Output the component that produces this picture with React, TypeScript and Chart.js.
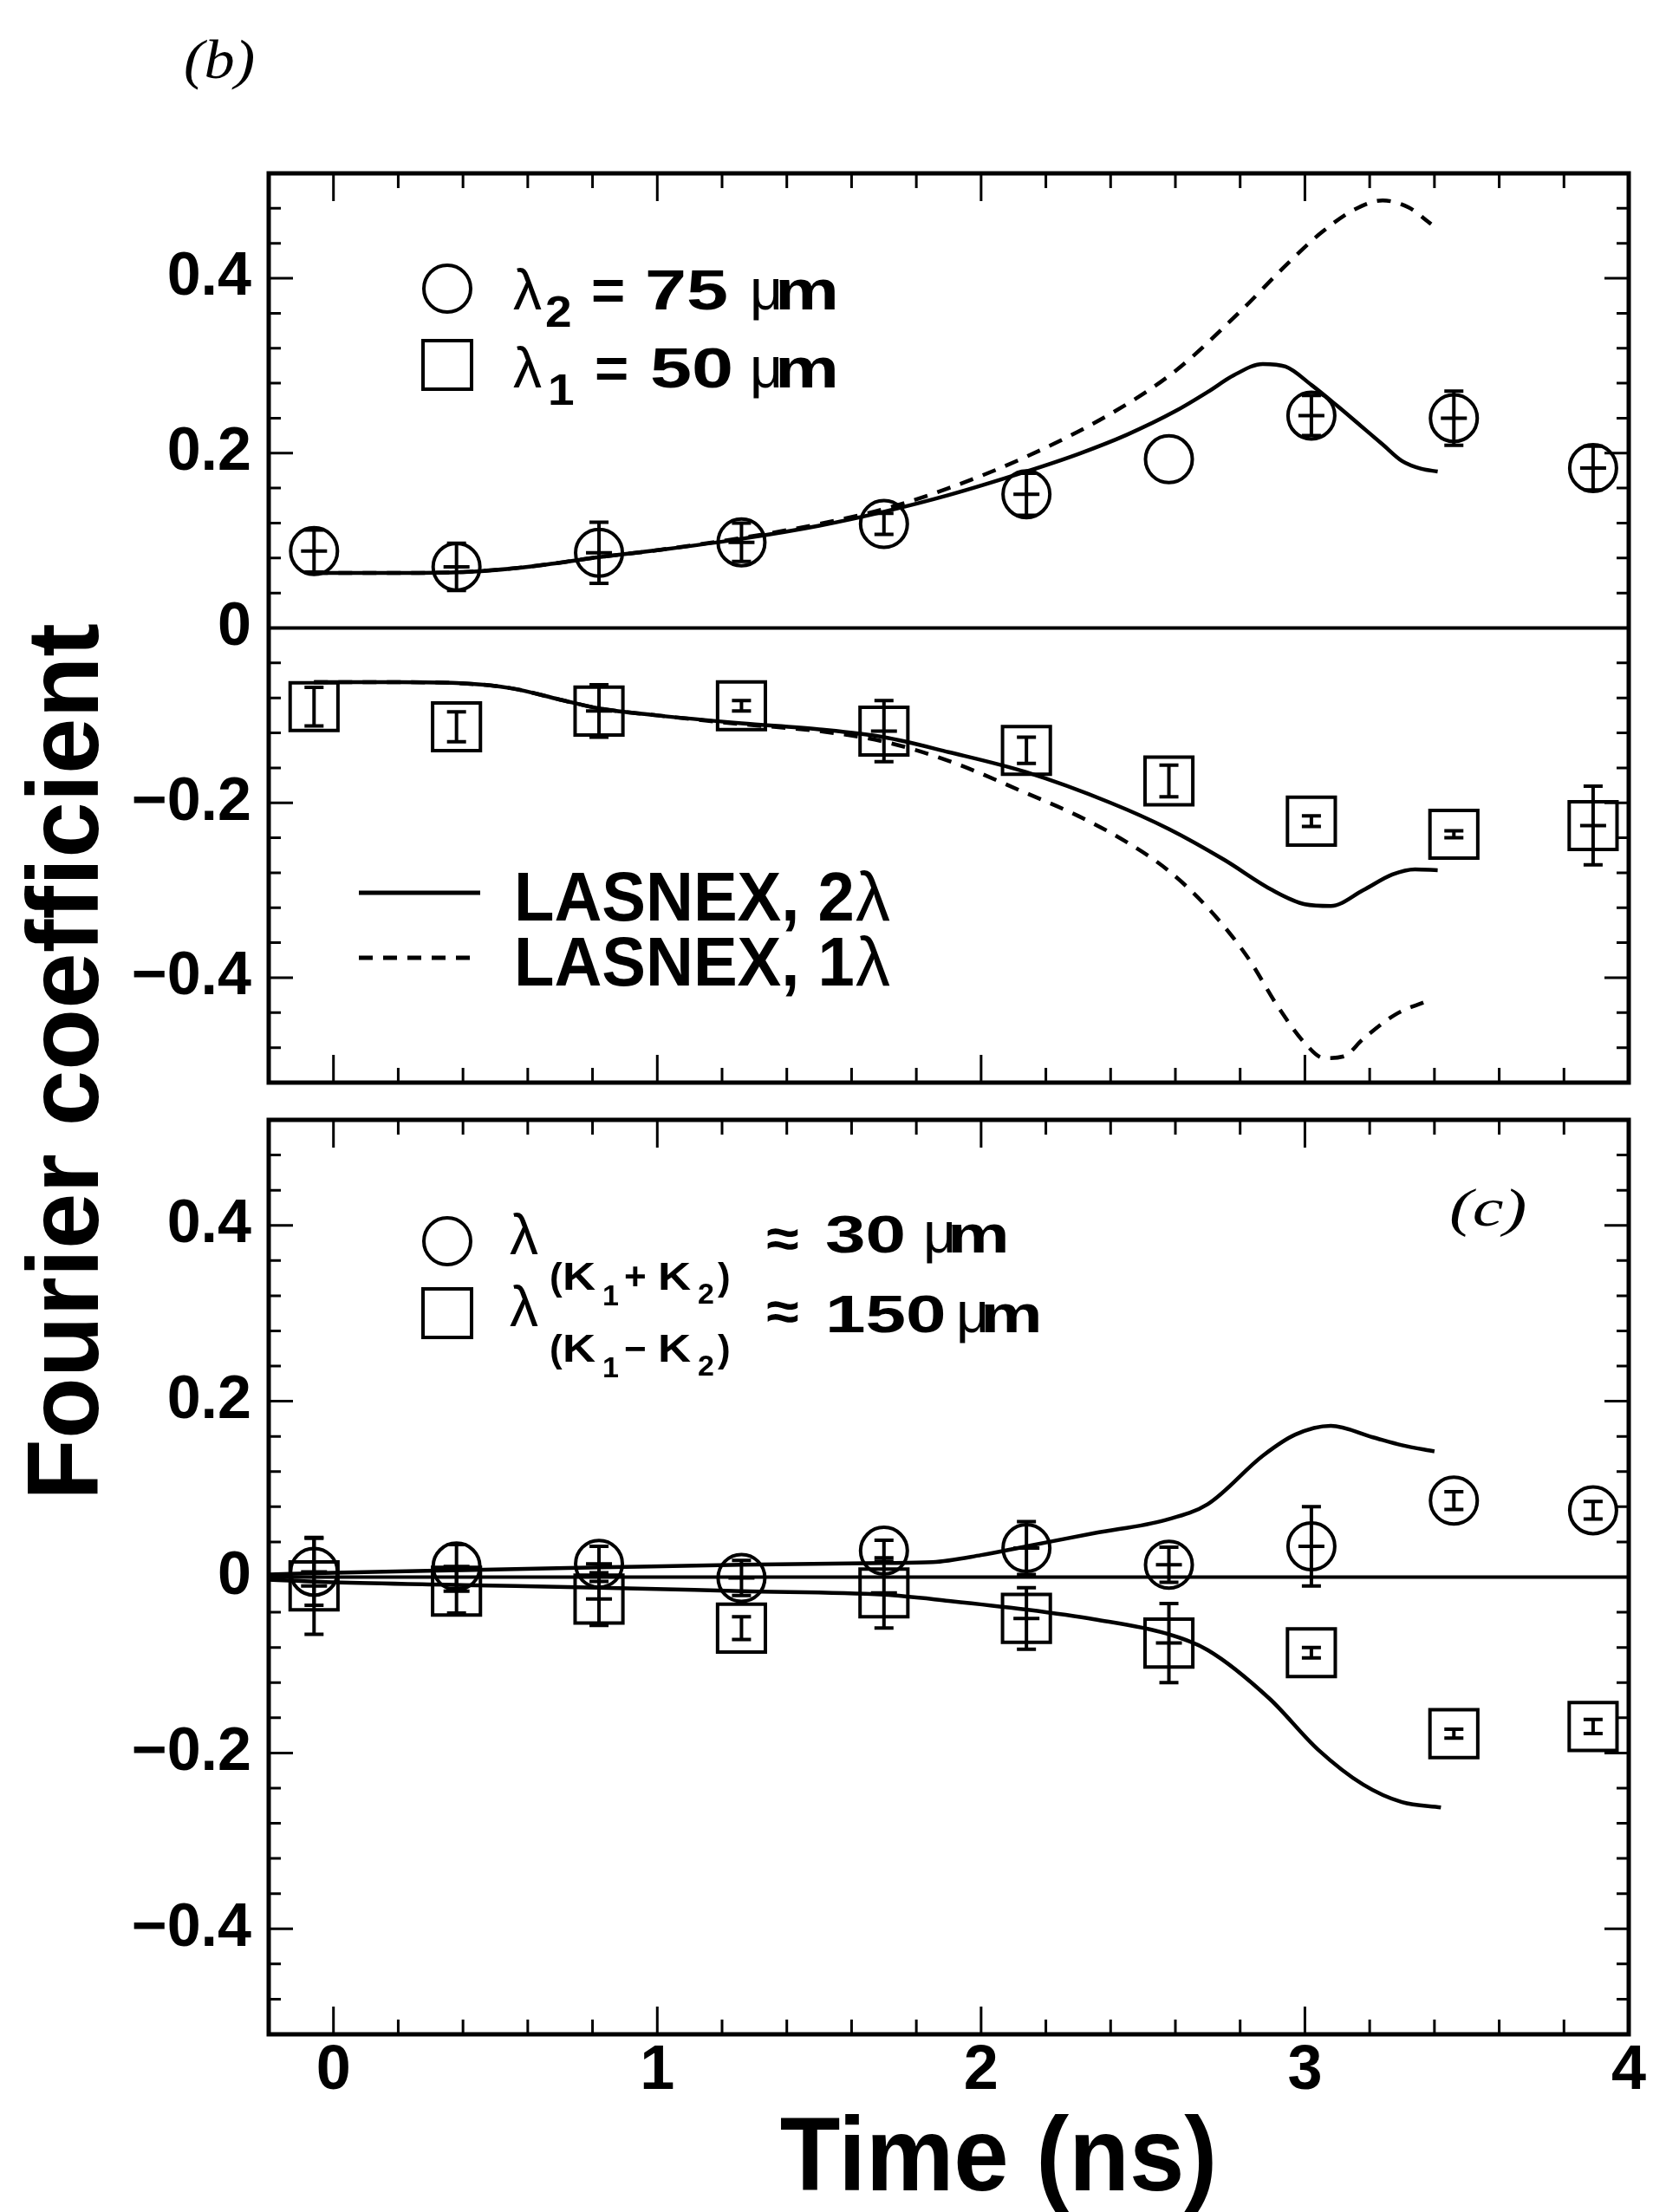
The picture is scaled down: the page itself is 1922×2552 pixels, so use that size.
import React, { useEffect, useRef } from 'react';
import { Chart, registerables } from 'chart.js';

Chart.register(...registerables);

const FONT = '"Liberation Sans", Arial, Helvetica, sans-serif';
const SERIF = '"Liberation Serif", "DejaVu Serif", serif';

// axes
const X_MIN = -0.2;
const X_MAX = 4;
const X_STEP = 0.2;
const Y_MIN = -0.52;
const Y_MAX = 0.52;
const Y_STEP = 0.04;

// frame times (ns)
const frameTimes = [-0.06, 0.38, 0.82, 1.26, 1.7, 2.14, 2.58, 3.02, 3.46, 3.89];

// ---- panel (b) ----
const lambda2Values = [0.088, 0.07, 0.086, 0.098, 0.119, 0.153, 0.193, 0.243, 0.24, 0.183];
const lambda2Err = [0.024, 0.027, 0.035, 0.022, 0.012, 0.024, 0, 0.023, 0.031, 0.025];
const lambda2Cross = [1, 1, 1, 1, 0, 1, 0, 1, 1, 1];

const lambda1Values = [-0.09, -0.113, -0.095, -0.089, -0.118, -0.14, -0.175, -0.221, -0.236, -0.226];
const lambda1Err = [0.022, 0.017, 0.03, 0.006, 0.035, 0.015, 0.018, 0.006, 0.004, 0.045];
const lambda1Cross = [0, 0, 1, 0, 1, 0, 0, 0, 0, 1];

const las2UpT = [-0.06, 0.2, 0.4, 0.6, 0.82, 1.0, 1.26, 1.5, 1.7, 1.9, 2.14, 2.3, 2.45, 2.6, 2.7, 2.78, 2.87, 2.94, 3.02, 3.1, 3.17, 3.24, 3.3, 3.36, 3.41];
const las2UpV = [0.063, 0.063, 0.064, 0.07, 0.081, 0.089, 0.102, 0.117, 0.133, 0.152, 0.179, 0.199, 0.221, 0.248, 0.27, 0.289, 0.302, 0.299, 0.278, 0.254, 0.232, 0.21, 0.191, 0.182, 0.179];

const las1UpT = [-0.06, 0.2, 0.4, 0.6, 0.82, 1.0, 1.26, 1.5, 1.7, 1.9, 2.14, 2.4, 2.6, 2.8, 2.95, 3.05, 3.15, 3.24, 3.32, 3.39];
const las1UpV = [0.063, 0.063, 0.064, 0.07, 0.081, 0.089, 0.103, 0.119, 0.136, 0.16, 0.196, 0.245, 0.294, 0.362, 0.418, 0.452, 0.478, 0.489, 0.481, 0.462];

const las2LoT = [-0.06, 0.2, 0.38, 0.55, 0.7, 0.82, 1.0, 1.26, 1.5, 1.7, 1.9, 2.14, 2.4, 2.58, 2.75, 2.9, 3.0, 3.08, 3.18, 3.27, 3.34, 3.41];
const las2LoV = [-0.062, -0.062, -0.063, -0.069, -0.082, -0.092, -0.1, -0.109, -0.116, -0.125, -0.142, -0.165, -0.2, -0.23, -0.265, -0.3, -0.316, -0.318, -0.3, -0.282, -0.276, -0.277];

const las1LoT = [-0.06, 0.2, 0.38, 0.55, 0.7, 0.82, 1.0, 1.26, 1.5, 1.7, 1.9, 2.14, 2.3, 2.45, 2.58, 2.7, 2.82, 2.92, 3.0, 3.06, 3.12, 3.18, 3.28, 3.39];
const las1LoV = [-0.062, -0.062, -0.063, -0.069, -0.082, -0.092, -0.1, -0.11, -0.118, -0.13, -0.152, -0.189, -0.215, -0.245, -0.278, -0.32, -0.375, -0.435, -0.475, -0.492, -0.49, -0.47, -0.442, -0.425];

// ---- panel (c) ----
const sumKValues = [0.006, 0.012, 0.015, -0.001, 0.03, 0.033, 0.014, 0.035, 0.087, 0.076];
const sumKErr = [0.038, 0.025, 0.02, 0.02, 0.012, 0.03, 0.02, 0.045, 0.01, 0.01];
const sumKCross = [1, 1, 1, 1, 0, 1, 1, 1, 0, 0];

const diffKValues = [-0.01, -0.016, -0.025, -0.058, -0.018, -0.047, -0.075, -0.086, -0.178, -0.17];
const diffKErr = [0.055, 0.025, 0.03, 0.013, 0.04, 0.035, 0.045, 0.006, 0.005, 0.008];
const diffKCross = [1, 1, 1, 0, 1, 1, 1, 0, 0, 0];

const sumCurveT = [-0.2, 0, 0.4, 0.82, 1.26, 1.7, 1.85, 2.0, 2.14, 2.35, 2.57, 2.7, 2.87, 2.97, 3.08, 3.21, 3.3, 3.4];
const sumCurveV = [0.003, 0.005, 0.008, 0.011, 0.014, 0.016, 0.017, 0.025, 0.035, 0.05, 0.065, 0.083, 0.138, 0.162, 0.172, 0.159, 0.15, 0.143];

const diffCurveT = [-0.2, 0, 0.4, 0.82, 1.26, 1.7, 1.9, 2.14, 2.35, 2.57, 2.7, 2.89, 3.04, 3.18, 3.3, 3.42];
const diffCurveV = [-0.003, -0.006, -0.009, -0.012, -0.016, -0.02, -0.027, -0.037, -0.048, -0.064, -0.083, -0.138, -0.196, -0.236, -0.256, -0.262];

// ---------------------------------------------------------------
const pts = (xs: number[], ys: number[]) => xs.map((x, i) => ({ x, y: ys[i] }));

function markerDataset(label: string, ys: number[], err: number[], cross: number[], style: 'circle' | 'rect') {
  return {
    label,
    data: pts(frameTimes, ys),
    showLine: false,
    pointStyle: style,
    pointRadius: style === 'circle' ? 27 : 39,
    pointHoverRadius: style === 'circle' ? 27 : 39,
    pointBorderWidth: 4,
    pointBorderColor: '#000',
    pointBackgroundColor: 'rgba(0,0,0,0)',
    errorBars: { err, cross },
  };
}

function curveDataset(label: string, xs: number[], ys: number[], dashed: boolean) {
  return {
    label,
    data: pts(xs, ys),
    showLine: true,
    pointRadius: 0,
    pointHoverRadius: 0,
    borderColor: '#000',
    borderWidth: 4.5,
    borderDash: dashed ? [16, 12] : [],
    cubicInterpolationMode: 'monotone',
    fill: false,
  };
}

function yLabel(v: number) {
  const r = Math.round(v * 100) / 100;
  const q = r / 0.2;
  if (Math.abs(q - Math.round(q)) > 1e-6) return '';
  if (Math.abs(r) < 1e-9) return '0';
  return r < 0 ? '\u2212' + Math.abs(r).toFixed(1) : r.toFixed(1);
}

function xLabel(v: number) {
  const r = Math.round(v * 1000) / 1000;
  return Math.abs(r - Math.round(r)) < 1e-6 ? String(Math.round(r)) : '';
}

function text(ctx: CanvasRenderingContext2D, s: string, x: number, y: number, font: string, sx = 1, align: CanvasTextAlign = 'left') {
  ctx.save();
  ctx.font = font;
  ctx.fillStyle = '#000';
  ctx.textBaseline = 'alphabetic';
  ctx.textAlign = align;
  ctx.translate(x, y);
  ctx.scale(sx, 1);
  ctx.fillText(s, 0, 0);
  ctx.restore();
}

function drawZeroLine(chart: any) {
  const { ctx, chartArea: a } = chart;
  const py = chart.scales.y.getPixelForValue(0);
  ctx.save();
  ctx.strokeStyle = '#000';
  ctx.lineWidth = 4;
  ctx.beginPath();
  ctx.moveTo(a.left, py);
  ctx.lineTo(a.right, py);
  ctx.stroke();
  ctx.restore();
}

function drawErrorBars(chart: any) {
  const { ctx } = chart;
  const xs = chart.scales.x;
  const ys = chart.scales.y;
  ctx.save();
  ctx.strokeStyle = '#000';
  ctx.lineWidth = 4;
  chart.data.datasets.forEach((ds: any) => {
    const eb = ds.errorBars;
    if (!eb) return;
    ds.data.forEach((p: any, j: number) => {
      const px = xs.getPixelForValue(p.x);
      const py = ys.getPixelForValue(p.y);
      const e = eb.err[j];
      ctx.beginPath();
      if (e > 0) {
        const top = ys.getPixelForValue(p.y + e);
        const bot = ys.getPixelForValue(p.y - e);
        ctx.moveTo(px, top);
        ctx.lineTo(px, bot);
        ctx.moveTo(px - 11, top);
        ctx.lineTo(px + 11, top);
        ctx.moveTo(px - 11, bot);
        ctx.lineTo(px + 11, bot);
      }
      if (eb.cross[j]) {
        ctx.moveTo(px - 15, py);
        ctx.lineTo(px + 15, py);
      }
      ctx.stroke();
    });
  });
  ctx.restore();
}

function drawFrameAndTicks(chart: any) {
  const { ctx, chartArea: a } = chart;
  const xs = chart.scales.x;
  const ys = chart.scales.y;
  ctx.save();
  ctx.strokeStyle = '#000';
  ctx.lineWidth = 3;
  ctx.beginPath();
  xs.ticks.forEach((t: any) => {
    const px = xs.getPixelForValue(t.value);
    const major = Math.abs(t.value - Math.round(t.value)) < 1e-6;
    const len = major ? 32 : 17;
    ctx.moveTo(px, a.bottom);
    ctx.lineTo(px, a.bottom - len);
    ctx.moveTo(px, a.top);
    ctx.lineTo(px, a.top + len);
  });
  ys.ticks.forEach((t: any) => {
    const py = ys.getPixelForValue(t.value);
    const q = t.value / 0.2;
    const major = Math.abs(q - Math.round(q)) < 1e-6;
    const len = major ? 28 : 14;
    ctx.moveTo(a.left, py);
    ctx.lineTo(a.left + len, py);
    ctx.moveTo(a.right, py);
    ctx.lineTo(a.right - len, py);
  });
  ctx.stroke();
  ctx.lineWidth = 5;
  ctx.strokeRect(a.left, a.top, a.right - a.left, a.bottom - a.top);
  ctx.restore();
}

function legendCircle(ctx: CanvasRenderingContext2D, x: number, y: number, r: number) {
  ctx.save();
  ctx.strokeStyle = '#000';
  ctx.lineWidth = 4;
  ctx.beginPath();
  ctx.arc(x, y, r, 0, Math.PI * 2);
  ctx.stroke();
  ctx.restore();
}

function legendSquare(ctx: CanvasRenderingContext2D, x: number, y: number, s: number) {
  ctx.save();
  ctx.strokeStyle = '#000';
  ctx.lineWidth = 4;
  ctx.strokeRect(x - s / 2, y - s / 2, s, s);
  ctx.restore();
}

function legendLine(ctx: CanvasRenderingContext2D, x1: number, x2: number, y: number, dash: number[]) {
  ctx.save();
  ctx.strokeStyle = '#000';
  ctx.lineWidth = 5;
  ctx.setLineDash(dash);
  ctx.beginPath();
  ctx.moveTo(x1, y);
  ctx.lineTo(x2, y);
  ctx.stroke();
  ctx.restore();
}

const topPlugin = {
  id: 'topPanelDecor',
  beforeDatasetsDraw(chart: any) {
    drawZeroLine(chart);
  },
  afterDatasetsDraw(chart: any) {
    drawErrorBars(chart);
    drawFrameAndTicks(chart);
    const { ctx, chartArea: a } = chart;
    const L = a.left;
    const T = a.top;
    const B = `bold 64px ${FONT}`;
    const N = `normal 66px ${FONT}`;
    // symbol legend
    legendCircle(ctx, L + 206, T + 133, 27);
    text(ctx, '\u03bb', L + 282, T + 157, N);
    text(ctx, '2', L + 319, T + 177, `bold 50px ${FONT}`, 1.1);
    text(ctx, '=', L + 372, T + 157, B, 1.05);
    text(ctx, '75', L + 434, T + 157, B, 1.35);
    text(ctx, '\u03bc', L + 555, T + 157, N);
    text(ctx, 'm', L + 584, T + 157, B, 1.3);

    legendSquare(ctx, L + 206, T + 221, 56);
    text(ctx, '\u03bb', L + 282, T + 247, N);
    text(ctx, '1', L + 322, T + 267, `bold 50px ${FONT}`, 1.1);
    text(ctx, '=', L + 376, T + 247, B, 1.05);
    text(ctx, '50', L + 440, T + 247, B, 1.35);
    text(ctx, '\u03bc', L + 555, T + 247, N);
    text(ctx, 'm', L + 584, T + 247, B, 1.3);

    // model legend
    legendLine(ctx, L + 104, L + 244, T + 830, []);
    text(ctx, 'LASNEX, 2', L + 283, T + 862, `bold 80px ${FONT}`, 0.95);
    text(ctx, '\u03bb', L + 677, T + 862, `normal 80px ${FONT}`);
    legendLine(ctx, L + 104, L + 244, T + 905, [16, 12]);
    text(ctx, 'LASNEX, 1', L + 283, T + 937, `bold 80px ${FONT}`, 0.95);
    text(ctx, '\u03bb', L + 677, T + 937, `normal 80px ${FONT}`);

    // handwritten panel label
    text(ctx, '(b)', 212, 90, `italic 64px ${SERIF}`, 1.1);
  },
};

const bottomPlugin = {
  id: 'bottomPanelDecor',
  beforeDatasetsDraw(chart: any) {
    drawZeroLine(chart);
  },
  afterDatasetsDraw(chart: any) {
    drawErrorBars(chart);
    drawFrameAndTicks(chart);
    const { ctx, chartArea: a } = chart;
    const L = a.left;
    const T = a.top;
    const B = `bold 62px ${FONT}`;
    const N = `normal 66px ${FONT}`;
    const S = `bold 44px ${FONT}`;
    const SS = `bold 34px ${FONT}`;

    // row 1
    legendCircle(ctx, L + 206, T + 140, 27);
    text(ctx, '\u03bb', L + 278, T + 155, N);
    text(ctx, '(', L + 324, T + 196, S);
    text(ctx, 'K', L + 339, T + 196, S, 1.2);
    text(ctx, '1', L + 385, T + 214, SS);
    text(ctx, '+', L + 410, T + 196, S);
    text(ctx, 'K', L + 449, T + 196, S, 1.2);
    text(ctx, '2', L + 495, T + 212, SS);
    text(ctx, ')', L + 518, T + 196, S);
    text(ctx, '\u2248', L + 574, T + 158, B, 1.1);
    text(ctx, '30', L + 642, T + 153, B, 1.35);
    text(ctx, '\u03bc', L + 755, T + 153, N);
    text(ctx, 'm', L + 783, T + 153, B, 1.3);

    // row 2
    legendSquare(ctx, L + 206, T + 223, 56);
    text(ctx, '\u03bb', L + 278, T + 238, N);
    text(ctx, '(', L + 324, T + 279, S);
    text(ctx, 'K', L + 339, T + 279, S, 1.2);
    text(ctx, '1', L + 385, T + 297, SS);
    text(ctx, '\u2212', L + 410, T + 279, S);
    text(ctx, 'K', L + 449, T + 279, S, 1.2);
    text(ctx, '2', L + 495, T + 295, SS);
    text(ctx, ')', L + 518, T + 279, S);
    text(ctx, '\u2248', L + 574, T + 242, B, 1.1);
    text(ctx, '150', L + 642, T + 245, B, 1.35);
    text(ctx, '\u03bc', L + 793, T + 245, N);
    text(ctx, 'm', L + 821, T + 245, B, 1.3);

    // handwritten panel label
    text(ctx, '(c)', 1672, 1414, `italic 62px ${SERIF}`, 1.3);

    // axis titles
    text(ctx, 'Time (ns)', 1152, 2527, `bold 120px ${FONT}`, 0.95, 'center');
    ctx.save();
    ctx.translate(113, 1225);
    ctx.rotate(-Math.PI / 2);
    text(ctx, 'Fourier coefficient', 0, 0, `bold 116px ${FONT}`, 1, 'center');
    ctx.restore();
  },
};

function makeOptions(padTop: number, padBottom: number, showX: boolean) {
  return {
    animation: false,
    responsive: false,
    maintainAspectRatio: false,
    events: [],
    layout: { padding: { top: padTop, bottom: padBottom, left: 0, right: 34 } },
    plugins: { legend: { display: false }, tooltip: { enabled: false }, title: { display: false } },
    scales: {
      x: {
        type: 'linear',
        min: X_MIN,
        max: X_MAX,
        grid: { display: false, drawTicks: false },
        border: { display: false },
        ticks: {
          display: showX,
          stepSize: X_STEP,
          autoSkip: false,
          maxRotation: 0,
          minRotation: 0,
          padding: 0,
          color: '#000',
          font: { family: FONT, size: 72, weight: 'bold' },
          callback: (v: any) => xLabel(Number(v)),
        },
        afterFit: (s: any) => {
          s.height = showX ? 100 : 0;
        },
      },
      y: {
        type: 'linear',
        min: Y_MIN,
        max: Y_MAX,
        grid: { display: false, drawTicks: false },
        border: { display: false },
        ticks: {
          stepSize: Y_STEP,
          autoSkip: false,
          padding: 20,
          color: '#000',
          font: { family: FONT, size: 70, weight: 'bold' },
          callback: (v: any) => yLabel(Number(v)),
        },
        afterFit: (s: any) => {
          s.width = 310;
        },
      },
    },
  };
}

export default function App() {
  const topRef = useRef<HTMLCanvasElement | null>(null);
  const botRef = useRef<HTMLCanvasElement | null>(null);

  useEffect(() => {
    const top = new Chart(topRef.current as HTMLCanvasElement, {
      type: 'scatter',
      data: {
        datasets: [
          markerDataset('\u03bb2 = 75 \u03bcm', lambda2Values, lambda2Err, lambda2Cross, 'circle'),
          markerDataset('\u03bb1 = 50 \u03bcm', lambda1Values, lambda1Err, lambda1Cross, 'rect'),
          curveDataset('LASNEX, 2\u03bb (upper)', las2UpT, las2UpV, false),
          curveDataset('LASNEX, 1\u03bb (upper)', las1UpT, las1UpV, true),
          curveDataset('LASNEX, 2\u03bb (lower)', las2LoT, las2LoV, false),
          curveDataset('LASNEX, 1\u03bb (lower)', las1LoT, las1LoV, true),
        ] as any,
      },
      options: makeOptions(200, 1303, false) as any,
      plugins: [topPlugin],
    });
    const bottom = new Chart(botRef.current as HTMLCanvasElement, {
      type: 'scatter',
      data: {
        datasets: [
          markerDataset('\u03bb(K1+K2) \u2248 30 \u03bcm', sumKValues, sumKErr, sumKCross, 'circle'),
          markerDataset('\u03bb(K1\u2212K2) \u2248 150 \u03bcm', diffKValues, diffKErr, diffKCross, 'rect'),
          curveDataset('LASNEX sum', sumCurveT, sumCurveV, false),
          curveDataset('LASNEX difference', diffCurveT, diffCurveV, false),
        ] as any,
      },
      options: makeOptions(1292, 105, true) as any,
      plugins: [bottomPlugin],
    });
    return () => {
      top.destroy();
      bottom.destroy();
    };
  }, []);

  const canvasStyle: React.CSSProperties = { position: 'absolute', left: 0, top: 0, width: 1922, height: 2552 };
  return (
    <div style={{ position: 'absolute', left: 0, top: 0, width: 1922, height: 2552, background: '#fff', overflow: 'hidden' }}>
      <canvas ref={topRef} width={1922} height={2552} style={canvasStyle} />
      <canvas ref={botRef} width={1922} height={2552} style={canvasStyle} />
    </div>
  );
}
